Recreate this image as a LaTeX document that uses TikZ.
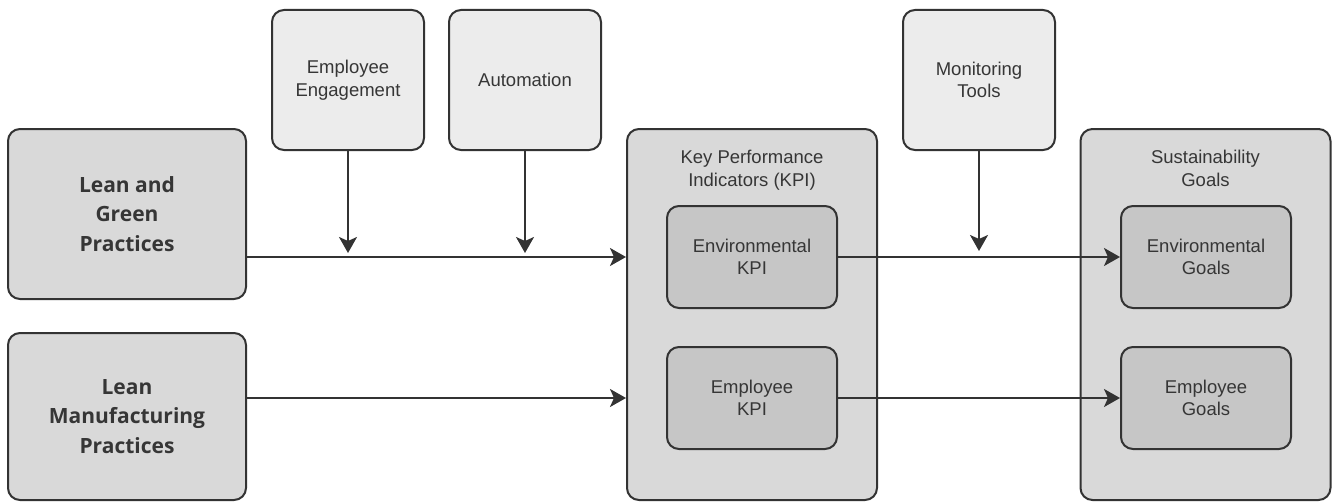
\documentclass[tikz,border=0pt]{standalone}
\usepackage{fontspec}
\setmainfont{Liberation Sans}
\newfontfamily\boldsans{Open Sans}
\usetikzlibrary{arrows.meta}
\definecolor{edge}{HTML}{333333}
\definecolor{txt}{HTML}{363636}
\definecolor{fillA}{HTML}{D9D9D9}
\definecolor{fillB}{HTML}{ECECEC}
\definecolor{fillC}{HTML}{C6C6C6}
\tikzset{
  base/.style={draw=edge, line width=2pt, rounded corners=12pt, text=txt, align=center, inner sep=0pt},
  mainbox/.style={base, fill=fillA, minimum width=238pt, minimum height=170pt, font=\boldsans\bfseries\fontsize{21}{29.5}\selectfont},
  topbox/.style={base, fill=fillB, minimum width=152pt, minimum height=140pt, font=\fontsize{18.5}{22.5}\selectfont},
  container/.style={base, fill=fillA, minimum width=250pt, minimum height=371pt},
  inner/.style={base, fill=fillC, minimum width=170pt, minimum height=102pt, font=\fontsize{18.5}{22.5}\selectfont},
  ttl/.style={text=txt, align=center, font=\fontsize{18.5}{22.5}\selectfont, anchor=north, inner sep=0pt},
  arr/.style={draw=edge, line width=2pt, -{Stealth[length=16pt, width=18pt, inset=4pt]}}
}
\begin{document}
\begin{tikzpicture}[x=1pt, y=-1pt]
\useasboundingbox (0,0) rectangle (1334,503);
% left
\node[mainbox] (lg) at (127,214) {Lean and\\Green\\Practices};
\node[mainbox, minimum height=167pt] (lm) at (127,416.5) {Lean\\Manufacturing\\Practices};
% top
\node[topbox] (ee) at (348,80) {Employee\\Engagement};
\node[topbox] (au) at (525,80) {Automation};
\node[topbox] (mt) at (979,80) {Monitoring\\Tools};
% containers
\node[container] (kpi) at (752,314.5) {};
\node[ttl] at (752,150) {Key Performance\\Indicators (KPI)};
\node[container] (sg) at (1205.5,314.5) {};
\node[ttl] at (1205.5,150) {Sustainability\\Goals};
% inner
\node[inner] (ekpi) at (752,257) {Environmental\\KPI};
\node[inner] (mkpi) at (752,398) {Employee\\KPI};
\node[inner] (eg) at (1206,257) {Environmental\\Goals};
\node[inner] (mg) at (1206,398) {Employee\\Goals};
% arrows
\draw[arr] (lg.east |- ekpi.west) -- (kpi.west |- ekpi.west);
\draw[arr] (lm.east |- mkpi.west) -- (kpi.west |- mkpi.west);
\draw[arr] (ekpi.east) -- (eg.west);
\draw[arr] (mkpi.east) -- (mg.west);
\coordinate (e1) at (348,253);
\coordinate (e2) at (525,253);
\coordinate (e3) at (979,251);
\draw[arr] (ee.south) -- (e1);
\draw[arr] (au.south) -- (e2);
\draw[arr] (mt.south) -- (e3);
\end{tikzpicture}
\end{document}
